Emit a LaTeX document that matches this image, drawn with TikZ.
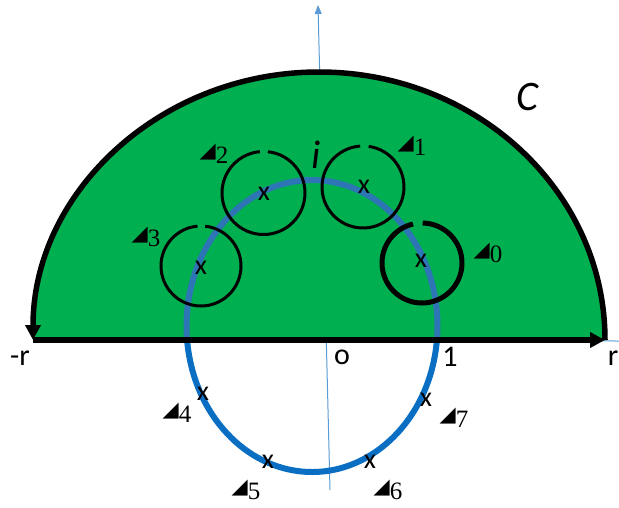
\documentclass[tikz,border=0pt]{standalone}
\usepackage{fontspec}
\setmainfont{Carlito}
\newfontfamily\symfont{DejaVu Sans}
\newfontfamily\digfont{Liberation Serif}
\usetikzlibrary{arrows.meta}
\definecolor{regionGreen}{HTML}{00B050}
\definecolor{loopBlue}{HTML}{0A6FC2}
\definecolor{loopBlueDim}{HTML}{2E75B6}
\definecolor{axisBlue}{HTML}{5B9BD5}
\newcommand{\polename}[1]{{\symfont\fontsize{21}{21}\selectfont ◢}\raisebox{-6pt}{\digfont\fontsize{25}{25}\selectfont #1}}

\begin{document}
\begin{tikzpicture}[x=1pt,y=-1pt,
  polecircle/.style={draw=black,line width=3pt},
  polemark/.style={font=\fontsize{28}{28}\selectfont,inner sep=0pt},
  polelabel/.style={inner sep=0pt},
  axislabel/.style={font=\fontsize{30}{30}\selectfont,inner sep=0pt}]
  \useasboundingbox (0,0) rectangle (619,507);
  \coordinate (mr) at (33,340);
  \coordinate (pr) at (605,340);
  \coordinate (hend) at (619,341);
  \coordinate (axbot) at (330,490);
  \coordinate (axtop) at (318,5);
  % axes sit behind the region
  \draw[axisBlue,line width=1pt] (mr) -- (hend);
  \draw[axisBlue,line width=1pt,-{Triangle[length=9pt,width=7pt]}] (axbot) -- (axtop);
  % the half disc
  \fill[regionGreen] (pr) arc[start angle=0,end angle=-180,x radius=286,y radius=268] -- cycle;
  % unit circle
  \draw[loopBlue,line width=6pt] (312,326) ++(5.5:125.5 and 146) arc[start angle=5.5,end angle=174.5,x radius=125.5,y radius=146];
  \draw[loopBlueDim,line width=6pt] (312,326) ++(174.5:125.5 and 146) arc[start angle=174.5,end angle=365.5,x radius=125.5,y radius=146];
  % contour C
  \draw[line width=5.5pt,-{Triangle[length=15pt,width=15pt]}] (pr) arc[start angle=0,end angle=-180,x radius=286,y radius=268];
  \draw[line width=5.5pt,-{Triangle[length=15pt,width=15pt]}] (mr) -- (pr);
  % small circles round the poles
  \draw[polecircle] (201,266) ++(-84:40) arc[start angle=-84,end angle=265,radius=40];
  \draw[polecircle] (263.5,193) ++(-84:41.5) arc[start angle=-84,end angle=265,radius=41.5];
  \draw[polecircle] (363,187) ++(-82:41) arc[start angle=-82,end angle=266,radius=41];
  \draw[polecircle,line width=5pt] (422,263) ++(-89:40) arc[start angle=-89,end angle=257,radius=40];
  % poles
  \node[polemark] (x3) at (201,268) {x};
  \node[polemark] (x2) at (264,194) {x};
  \node[polemark] (x1) at (364,187) {x};
  \node[polemark] (x0) at (421,261) {x};
  \node[polemark] (x4) at (203,394) {x};
  \node[polemark] (x5) at (268,462) {x};
  \node[polemark] (x6) at (370,462) {x};
  \node[polemark] (x7) at (426,400) {x};
  % pole names
  \node[polelabel] (n2) at (214,154) {\polename{2}};
  \node[polelabel] (n1) at (412,146) {\polename{1}};
  \node[polelabel] (n0) at (488,253) {\polename{0}};
  \node[polelabel] (n3) at (146,237) {\polename{3}};
  \node[polelabel] (n4) at (177,413) {\polename{4}};
  \node[polelabel] (n5) at (246,490) {\polename{5}};
  \node[polelabel] (n6) at (388,490) {\polename{6}};
  \node[polelabel] (n7) at (454,418) {\polename{7}};
  % axis marks
  \node[axislabel] (lmr) at (20,358) {-r};
  \node[axislabel] (lo) at (342,357) {o};
  \node[axislabel] (lone) at (450,357) {1};
  \node[axislabel] (lpr) at (613,358) {r};
  \node[font=\itshape\fontsize{42}{42}\selectfont,inner sep=0pt] (lc) at (527,97) {C};
  \node[font=\itshape\fontsize{40}{40}\selectfont,inner sep=0pt] (li) at (316,155) {i};
\end{tikzpicture}
\end{document}
